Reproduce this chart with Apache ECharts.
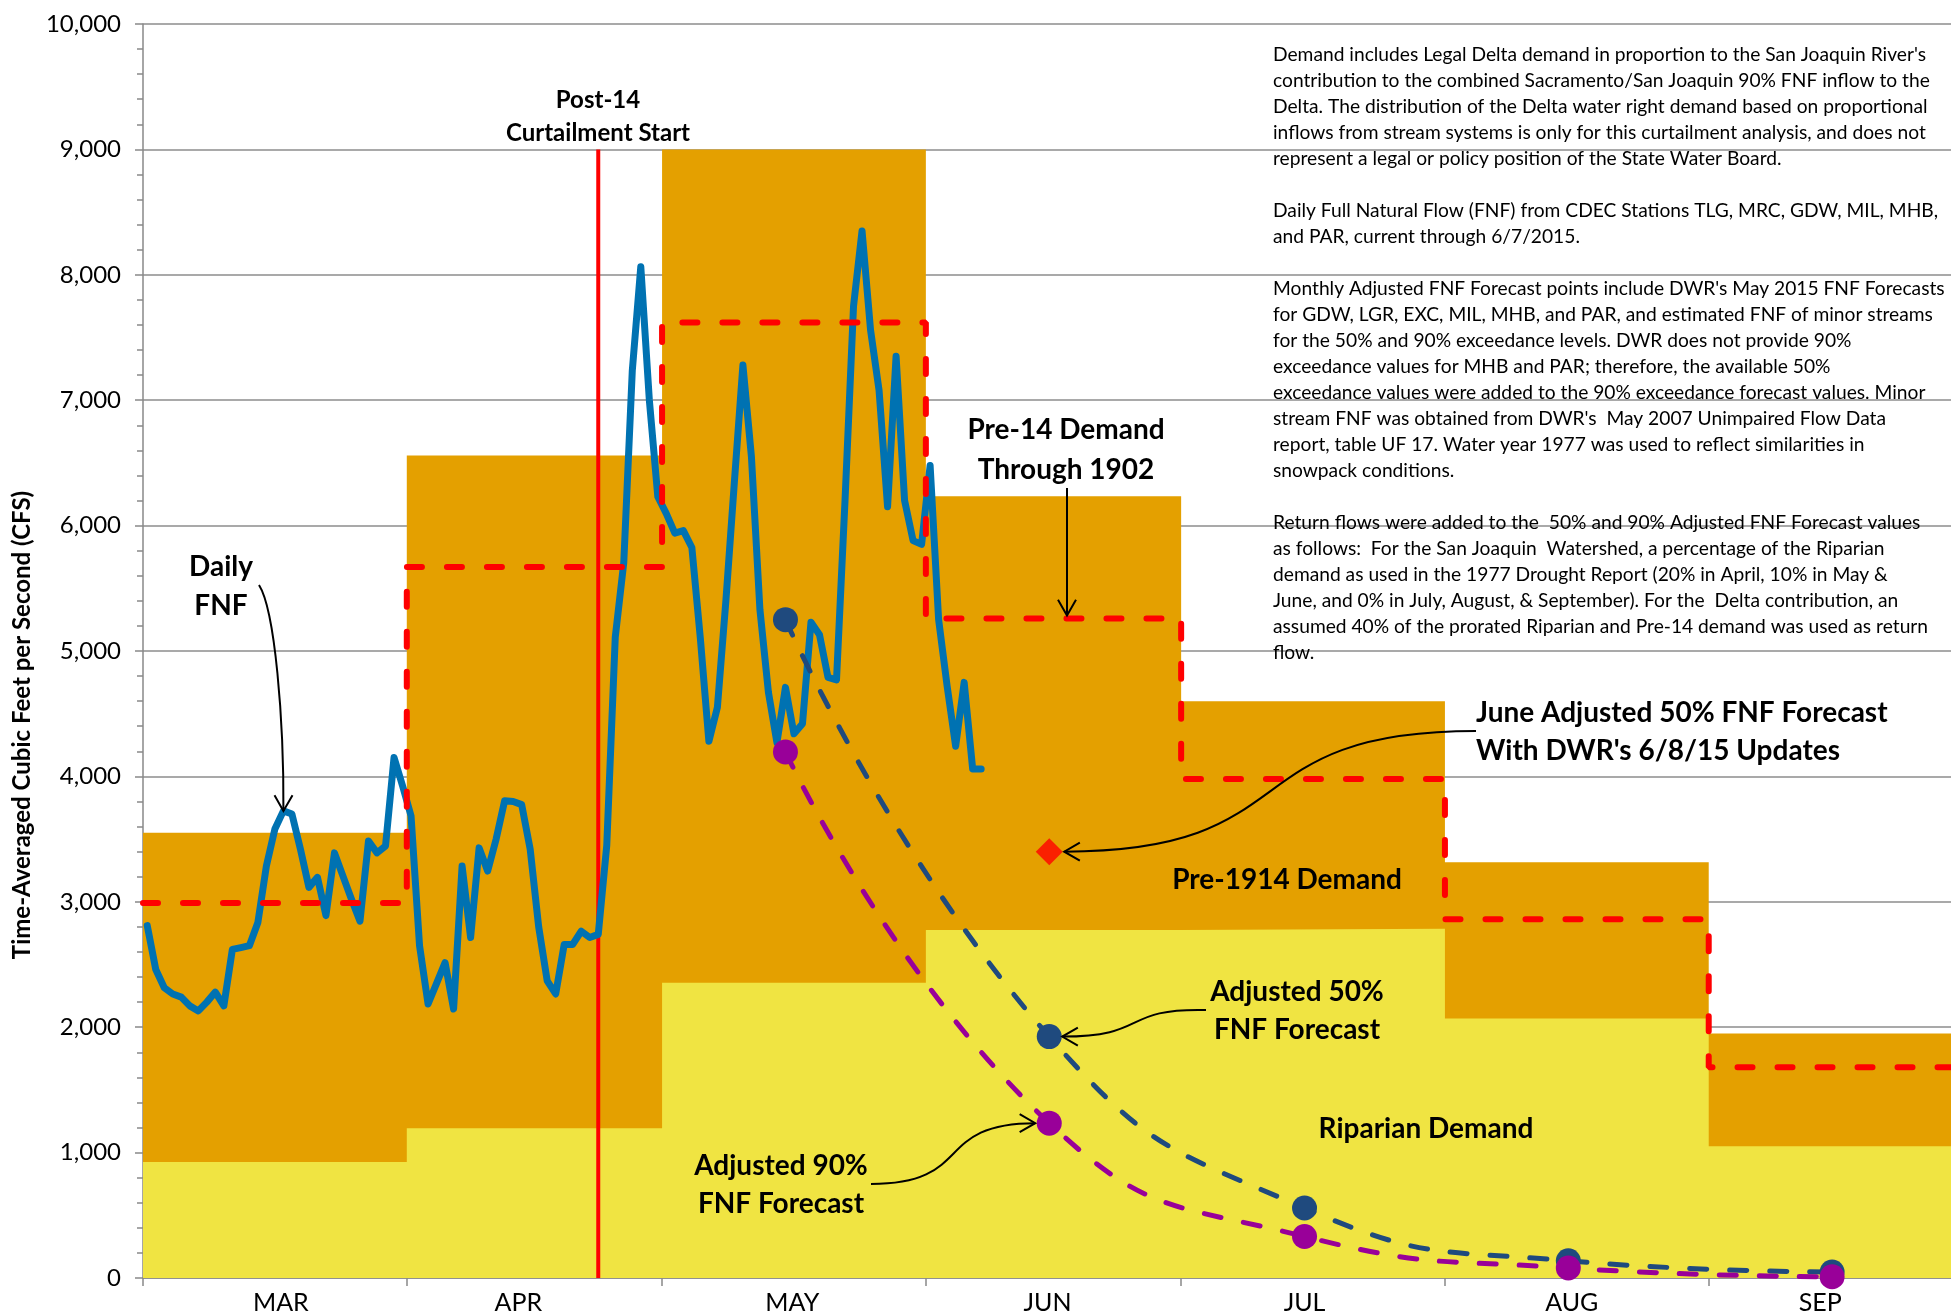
<!DOCTYPE html>
<html>
<head>
<meta charset="utf-8">
<script src="https://cdn.jsdelivr.net/npm/echarts@6/dist/echarts.min.js"></script>
<style>
  html, body { margin: 0; padding: 0; background: #fff; overflow: hidden; }
  /* a bit wider than the window: the plot runs past the right edge, as in the original */
  #chart { width: 1964px; height: 1315px; }
</style>
</head>
<body>
<div id="chart"></div>
<script>
// month tick labels and lengths (Mar 1 .. Sep 30)
const months = ['MAR', 'APR', 'MAY', 'JUN', 'JUL', 'AUG', 'SEP'];
const monthDays = [31, 30, 31, 30, 31, 31, 30];
// where each month label sits (day from Mar 1), as placed in the original
const monthLabelDays = [16.2, 44.1, 76.3, 106.3, 136.5, 167.9, 197.1];

// monthly demand (cfs)
const riparian = [925, 1195, 2355, 2775, 2785, 2070, 1050];
const pre1914 = [2625, 5365, 6645, 3460, 1815, 1245, 900];
const pre14Through1902 = [2990, 5670, 7620, 5260, 3980, 2860, 1680];

// daily FNF, Mar 1 .. Jun 7 2015
const dailyFnf = [
  2810, 2460, 2315, 2265, 2240, 2170, 2130, 2200, 2280, 2170,
  2620, 2635, 2650, 2835, 3285, 3580, 3725, 3700, 3420, 3115,
  3195, 2890, 3390, 3205, 3020, 2845, 3485, 3390, 3445, 4150,
  3925, 3685, 2650, 2185, 2350, 2515, 2145, 3285, 2715, 3430,
  3245, 3500, 3805, 3800, 3775, 3420, 2800, 2370, 2265, 2660,
  2660, 2765, 2715, 2740, 3450, 5110, 5705, 7235, 8065, 7005,
  6230, 6095, 5940, 5960, 5825, 5100, 4280, 4550, 5400, 6350,
  7280, 6550, 5330, 4670, 4270, 4710, 4340, 4420, 5230, 5130,
  4790, 4770, 6200, 7750, 8350, 7560, 7080, 6150, 7350, 6200,
  5880, 5850, 6480, 5250, 4720, 4240, 4750, 4060, 4060
];

// monthly forecast points on the 15th of May..Sep (day index from Mar 1)
const forecastDays = [75, 106, 136, 167, 198];
const adjusted50 = [5250, 1925, 558, 137, 48];
const adjusted90 = [4195, 1235, 331, 80, 10];
const juneUpdateDay = 106;
const juneUpdate50 = 3400;
const curtailmentDay = 53;

const noteLines = [
  "Demand includes Legal Delta demand in proportion to the San Joaquin River's",
  "contribution to the combined Sacramento/San Joaquin 90% FNF inflow to the",
  "Delta. The distribution of the Delta water right demand based on proportional",
  "inflows from stream systems is only for this curtailment analysis, and does not",
  "represent a legal or policy position of the State Water Board.",
  "",
  "Daily Full Natural Flow (FNF) from CDEC Stations TLG, MRC, GDW, MIL, MHB,",
  "and PAR, current through 6/7/2015.",
  "",
  "Monthly Adjusted FNF Forecast points include DWR's May 2015 FNF Forecasts",
  "for GDW, LGR, EXC, MIL, MHB, and PAR, and estimated FNF of minor streams",
  "for the 50% and 90% exceedance levels. DWR does not provide 90%",
  "exceedance values for MHB and PAR; therefore, the available 50%",
  "exceedance values were added to the 90% exceedance forecast values. Minor",
  "stream FNF was obtained from DWR's  May 2007 Unimpaired Flow Data",
  "report, table UF 17. Water year 1977 was used to reflect similarities in",
  "snowpack conditions.",
  "",
  "Return flows were added to the  50% and 90% Adjusted FNF Forecast values",
  "as follows:  For the San Joaquin  Watershed, a percentage of the Riparian",
  "demand as used in the 1977 Drought Report (20% in April, 10% in May &",
  "June, and 0% in July, August, & September). For the  Delta contribution, an",
  "assumed 40% of the prorated Riparian and Pre-14 demand was used as return",
  "flow."
];

const monthStart = [];
let acc = 0;
monthDays.forEach(d => { monthStart.push(acc); acc += d; });
const totalDays = acc;

function stepData(vals) {
  const pts = vals.map((v, i) => [monthStart[i], v]);
  pts.push([totalDays, vals[vals.length - 1]]);
  return pts;
}
const demandTop = riparian.map((v, i) => v + pre1914[i]);

const FONT = 'Lato';
const axisGray = '#898989';

const chart = echarts.init(document.getElementById('chart'));

chart.setOption({
  animation: false,
  grid: { left: 143, right: 0, top: 24, bottom: 36 },
  xAxis: {
    type: 'value',
    min: 0,
    max: totalDays,
    axisLine: { lineStyle: { color: axisGray, width: 1.5 } },
    axisTick: { customValues: monthStart.concat([totalDays]), length: 8, lineStyle: { color: axisGray, width: 1.5 } },
    axisLabel: {
      customValues: monthLabelDays,
      margin: 12,
      fontSize: 25,
      fontFamily: FONT,
      color: '#000',
      formatter: v => {
        const i = monthLabelDays.findIndex(m => Math.abs(m - v) < 0.01);
        return i >= 0 ? months[i] : '';
      }
    },
    splitLine: { show: false }
  },
  yAxis: {
    type: 'value',
    min: 0,
    max: 10000,
    interval: 1000,
    axisLine: { show: true, lineStyle: { color: axisGray, width: 1.5 } },
    axisTick: { show: true, length: 8, lineStyle: { color: axisGray, width: 1.5 } },
    minorTick: { show: true, splitNumber: 5, length: 6, lineStyle: { color: axisGray, width: 1.5 } },
    axisLabel: {
      margin: 22,
      fontSize: 24,
      fontFamily: FONT,
      color: '#000',
      formatter: v => v.toLocaleString('en-US')
    },
    splitLine: { show: true, lineStyle: { color: '#8c8c8c', width: 1.5 } }
  },
  series: [
    {
      name: 'Pre-1914 Demand',
      type: 'line',
      step: 'end',
      data: stepData(demandTop),
      symbol: 'none',
      lineStyle: { width: 0 },
      areaStyle: { color: '#E4A000', opacity: 1 },
      z: 1
    },
    {
      name: 'Riparian Demand',
      type: 'line',
      step: 'end',
      data: stepData(riparian),
      symbol: 'none',
      lineStyle: { width: 0 },
      areaStyle: { color: '#F0E442', opacity: 1 },
      z: 1
    },
    {
      name: 'Post-14 Curtailment Start',
      type: 'line',
      data: [[curtailmentDay + 0.5, 0], [curtailmentDay + 0.5, 9000]],
      symbol: 'none',
      lineStyle: { color: '#FF0000', width: 4 },
      z: 2
    },
    {
      name: 'Daily FNF',
      type: 'line',
      data: dailyFnf.map((v, i) => [i + 0.5, v]),
      symbol: 'none',
      lineStyle: { color: '#0072B2', width: 7, cap: 'round', join: 'round' },
      z: 3
    },
    {
      name: 'Pre-14 Demand Through 1902',
      type: 'line',
      step: 'end',
      data: stepData(pre14Through1902),
      symbol: 'none',
      lineStyle: { color: '#FF0000', width: 6, type: [15, 25], cap: 'round' },
      z: 4
    },
    {
      name: 'Adjusted 50% FNF Forecast',
      type: 'line',
      smooth: 0.5,
      data: forecastDays.map((d, i) => [d + 0.5, adjusted50[i]]),
      symbol: 'circle',
      symbolSize: 25,
      itemStyle: { color: '#1F4A7E' },
      lineStyle: { color: '#1F4A7E', width: 5, type: [17, 23], cap: 'round' },
      z: 5
    },
    {
      name: 'Adjusted 90% FNF Forecast',
      type: 'line',
      smooth: 0.5,
      data: forecastDays.map((d, i) => [d + 0.5, adjusted90[i]]),
      symbol: 'circle',
      symbolSize: 25,
      itemStyle: { color: '#990099' },
      lineStyle: { color: '#990099', width: 5, type: [17, 23], cap: 'round' },
      z: 5
    },
    {
      name: 'June Adjusted 50% FNF Forecast',
      type: 'scatter',
      data: [[juneUpdateDay + 0.5, juneUpdate50]],
      symbol: 'diamond',
      symbolSize: 27,
      itemStyle: { color: '#FF0000' },
      z: 6
    }
  ]
});

// ---- annotations ----
const P = (x, y) => chart.convertToPixel({ gridIndex: 0 }, [x, y]);

function arrow(p0, c1, c2, tip) {
  const ang = Math.atan2(tip[1] - c2[1], tip[0] - c2[0]);
  const L = 18, A = Math.PI / 6;
  const h1 = [tip[0] - L * Math.cos(ang - A), tip[1] - L * Math.sin(ang - A)];
  const h2 = [tip[0] - L * Math.cos(ang + A), tip[1] - L * Math.sin(ang + A)];
  return [
    {
      type: 'bezierCurve', z: 100,
      shape: { x1: p0[0], y1: p0[1], cpx1: c1[0], cpy1: c1[1], cpx2: c2[0], cpy2: c2[1], x2: tip[0], y2: tip[1] },
      style: { stroke: '#000', lineWidth: 2, fill: 'none' }
    },
    {
      type: 'polyline', z: 100,
      shape: { points: [h1, tip, h2] },
      style: { stroke: '#000', lineWidth: 2, fill: 'none' }
    }
  ];
}

function label(text, x, y, size, opts) {
  return {
    type: 'text', z: 100,
    style: {
      text: text, x: x, y: y,
      fontFamily: FONT, fontWeight: 'bold', fontSize: size,
      lineHeight: (opts && opts.lh) || size * 1.35,
      fill: '#000',
      align: (opts && opts.align) || 'center',
      verticalAlign: 'middle'
    }
  };
}

// notes block: size it so the widest line still fits before the edge
const ctx = document.createElement('canvas').getContext('2d');
ctx.font = '20px ' + FONT;
const widest = Math.max.apply(null, noteLines.map(l => ctx.measureText(l).width));
const noteSize = Math.min(20 * 672 / ctx.measureText(noteLines[0]).width, 20 * 672 / widest);

const dailyTip = P(16.5, dailyFnf[16]);
const pre14Tip = [1067, P(0, pre14Through1902[3])[1] - 3];
const dia = P(juneUpdateDay + 0.5, juneUpdate50);
const diaTip = [dia[0] + 15, dia[1]];
const m50 = P(forecastDays[1] + 0.5, adjusted50[1]);
const tip50 = [m50[0] + 13, m50[1]];
const m90 = P(forecastDays[1] + 0.5, adjusted90[1]);
const tip90 = [m90[0] - 14, m90[1]];

const graphics = [].concat(
  arrow([259, 585], [275, 610], [284, 720], dailyTip),
  arrow([1067, 488], [1067, 488], [1067, 488], pre14Tip),
  arrow([1476, 731], [1230, 731], [diaTip[0] + 246, diaTip[1]], diaTip),
  arrow([1206, 1010], [1120, 1008], [tip50[0] + 88, tip50[1]], tip50),
  arrow([871, 1184], [975, 1184], [tip90[0] - 103, tip90[1]], tip90),
  [
    label('Daily\nFNF', 221, 586.5, 28, { lh: 39 }),
    label('Post-14\nCurtailment Start', 598, 117, 24, { lh: 33 }),
    label('Pre-14 Demand\nThrough 1902', 1066, 450, 28, { lh: 40 }),
    label("June Adjusted 50% FNF Forecast\nWith DWR's 6/8/15 Updates", 1476, 732, 28, { lh: 38.5, align: 'left' }),
    label('Pre-1914 Demand', 1287, 880, 28),
    label('Adjusted 50%\nFNF Forecast', 1297, 1011, 28, { lh: 38.5 }),
    label('Riparian Demand', 1426, 1128.5, 28),
    label('Adjusted 90%\nFNF Forecast', 781, 1185, 28, { lh: 38.5 }),
    {
      type: 'text', z: 100,
      x: 22, y: 725, rotation: Math.PI / 2,
      style: {
        text: 'Time-Averaged Cubic Feet per Second (CFS)',
        fontFamily: FONT, fontWeight: 'bold', fontSize: 24,
        fill: '#000', align: 'center', verticalAlign: 'middle'
      }
    },
    {
      type: 'text', z: 100,
      style: {
        text: noteLines.join('\n'),
        x: 1273, y: 42,
        fontFamily: FONT, fontSize: noteSize, lineHeight: 26,
        fill: '#000', align: 'left', verticalAlign: 'top'
      }
    }
  ]
);

chart.setOption({ graphic: graphics });
</script>
</body>
</html>
